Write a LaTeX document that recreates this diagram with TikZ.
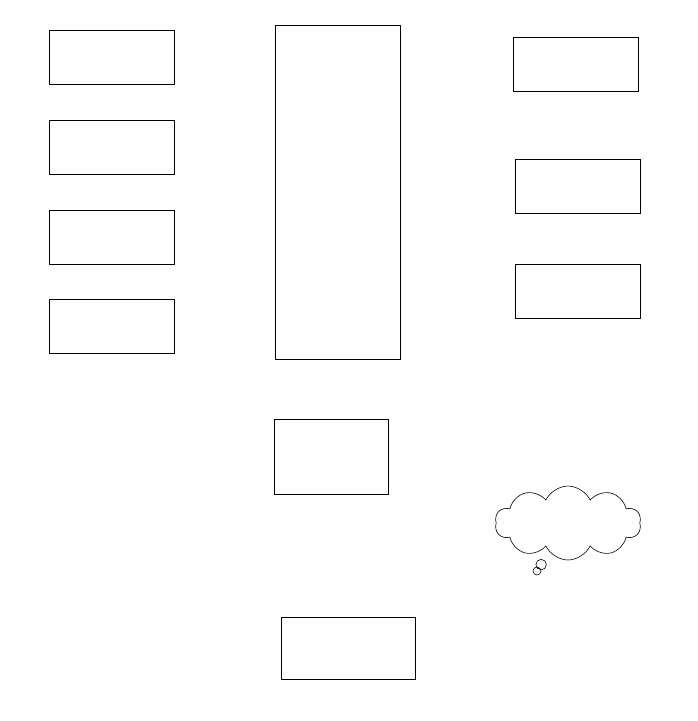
\documentclass[tikz,border=0pt]{standalone}
\usepackage{tikz}
\usetikzlibrary{shapes.symbols, shapes.callouts, positioning}

\tikzset{
    blockbox/.style={draw, line width=0.8pt, inner sep=0pt, minimum width=125pt, minimum height=54pt},
    thinkcloud/.style={draw, line width=0.6pt, cloud callout, cloud puffs=10, cloud puff arc=130,
        cloud ignores aspect, minimum width=146pt, minimum height=74pt, inner sep=0pt,
        callout pointer segments=2, callout pointer start size=13pt, callout pointer end size=8pt}
}

\begin{document}
\begin{tikzpicture}[x=1pt, y=-1pt]
    \useasboundingbox (0,0) rectangle (697,721);
    
    % Left column
    \node[blockbox] (left1) at (111.5, 57) {};
    \node[blockbox] (left2) at (111.5, 147) {};
    \node[blockbox] (left3) at (111.5, 237) {};
    \node[blockbox] (left4) at (111.5, 326) {};
    
    % Tall centre block
    \node[blockbox, minimum height=334pt] (centre) at (337.5, 192) {};
    
    % Right column
    \node[blockbox] (right1) at (575.5, 64) {};
    \node[blockbox] (right2) at (577.5, 186) {};
    \node[blockbox] (right3) at (577.5, 291) {};
    
    % Lower blocks
    \node[blockbox, minimum width=114pt, minimum height=75pt] (middle) at (331, 456.5) {};
    \node[blockbox, minimum width=134pt, minimum height=62pt] (bottom) at (348, 648) {};
    
    % Thought cloud
    \node[thinkcloud, callout absolute pointer={(537,571)}] (thought) at (568, 523) {};
\end{tikzpicture}
\end{document}
